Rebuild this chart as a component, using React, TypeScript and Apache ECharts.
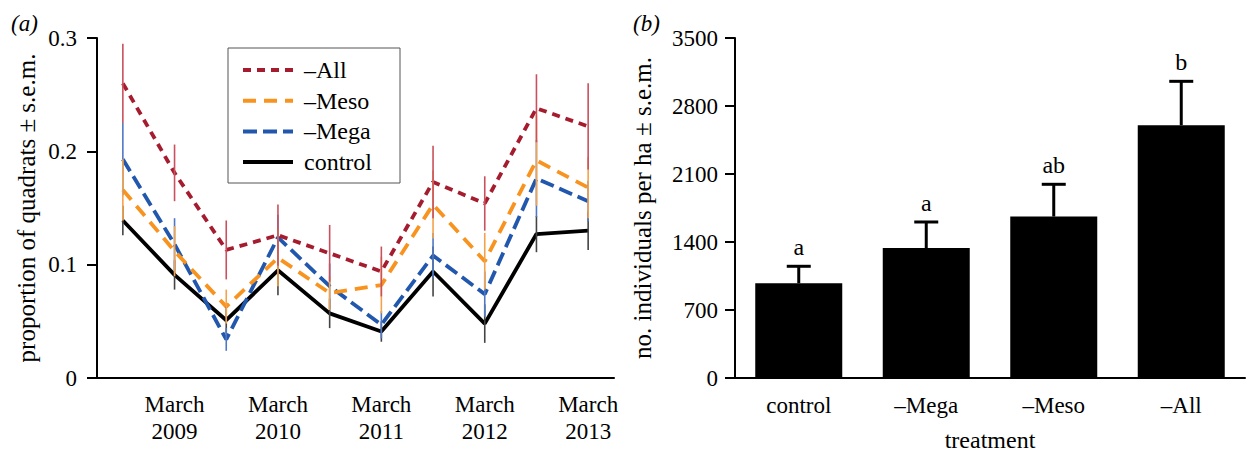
import React, { useEffect, useRef } from "react";
import * as echarts from "echarts";

// ---------- Panel (a) data ----------
const timeLabels = ["", "March\n2009", "", "March\n2010", "", "March\n2011", "", "March\n2012", "", "March\n2013"];
const timePoints = ["t1", "t2", "t3", "t4", "t5", "t6", "t7", "t8", "t9", "t10"];

const allValues = [0.26, 0.181, 0.113, 0.126, 0.11, 0.094, 0.173, 0.154, 0.238, 0.222];
const allSem = [0.035, 0.025, 0.026, 0.027, 0.025, 0.022, 0.032, 0.024, 0.03, 0.038];
const mesoValues = [0.166, 0.112, 0.063, 0.106, 0.075, 0.082, 0.153, 0.103, 0.192, 0.168];
const mesoSem = [0.027, 0.022, 0.015, 0.025, 0.015, 0.025, 0.03, 0.025, 0.04, 0.027];
const megaValues = [0.193, 0.118, 0.034, 0.124, 0.081, 0.047, 0.108, 0.074, 0.176, 0.156];
const megaSem = [0.032, 0.023, 0.01, 0.02, 0.02, 0.012, 0.02, 0.02, 0.034, 0.018];
const controlValues = [0.139, 0.091, 0.051, 0.095, 0.057, 0.041, 0.094, 0.048, 0.127, 0.13];
const controlSem = [0.013, 0.013, 0.012, 0.022, 0.013, 0.009, 0.022, 0.017, 0.016, 0.017];

const leftTicks = [0, 0.1, 0.2, 0.3];

// legend order as in the figure
const legendNames = ["–All", "–Meso", "–Mega", "control"];
const legendColors = ["#A51C2E", "#F7931E", "#2157AC", "#000000"];
const legendDashes: (number[] | null)[] = [[8, 6], [13, 8], [14, 6], null];

// ---------- Panel (b) data ----------
const treatments = ["control", "–Mega", "–Meso", "–All"];
const densities = [975, 1338, 1662, 2602];
const densitySem = [175, 268, 332, 452];
const groupLetters = ["a", "a", "ab", "b"];
const rightTicks = [0, 700, 1400, 2100, 2800, 3500];

const FONT = "Liberation Serif, Times New Roman, serif";

function errSeries(name: string, values: number[], sem: number[], color: string, z: number) {
  return {
    type: "custom",
    name,
    xAxisIndex: 0,
    yAxisIndex: 0,
    z,
    silent: true,
    data: values.map((v, i) => [i, v, sem[i]]),
    renderItem: (params: any, api: any) => {
      const x = api.value(0);
      const y = api.value(1);
      const e = api.value(2);
      const top = api.coord([x, y + e]);
      const bot = api.coord([x, y - e]);
      return {
        type: "line",
        shape: { x1: top[0], y1: top[1], x2: bot[0], y2: bot[1] },
        style: { stroke: color, lineWidth: 1.6 },
      };
    },
  };
}

function lineSeries(idx: number, data: number[], z: number) {
  const dash = legendDashes[idx];
  return {
    type: "line",
    name: legendNames[idx],
    data,
    xAxisIndex: 0,
    yAxisIndex: 0,
    symbol: "none",
    z,
    silent: true,
    lineStyle: { color: legendColors[idx], width: 3.8, type: dash ? dash : "solid" },
    itemStyle: { color: legendColors[idx] },
  };
}

export default function App() {
  const ref = useRef<HTMLDivElement>(null);
  useEffect(() => {
    document.body.style.margin = "0";
    if (!ref.current) return;
    const chart = echarts.init(ref.current, undefined, { renderer: "svg" });
    const tickText = { color: "#000", fontFamily: FONT, fontSize: 23 };
    const nameText = { color: "#000", fontFamily: FONT, fontSize: 25 };

    const legendItems: any[] = [
      {
        type: "rect",
        shape: { x: 228, y: 48, width: 172, height: 135 },
        style: { fill: "#fff", stroke: "#555", lineWidth: 1 },
        z: 100,
      },
    ];
    legendNames.forEach((n, i) => {
      const cy = 70 + i * 30.7;
      legendItems.push({
        type: "line",
        shape: { x1: 243, y1: cy, x2: 293, y2: cy },
        style: {
          stroke: legendColors[i],
          lineWidth: 4,
          lineDash: legendDashes[i] ? legendDashes[i] : null,
        },
        z: 101,
      });
      legendItems.push({
        type: "text",
        x: 304,
        y: cy,
        style: {
          text: n,
          fontFamily: FONT,
          fontSize: 24,
          fill: "#000",
          textAlign: "left",
          textVerticalAlign: "middle",
        },
        z: 101,
      });
    });

    const option: any = {
      animation: false,
      textStyle: { fontFamily: FONT, color: "#000" },
      grid: [
        { left: 97, right: 636, top: 38, bottom: 76, outerBoundsMode: "none", containLabel: false },
        { left: 735, right: 5, top: 38, bottom: 76, outerBoundsMode: "none", containLabel: false },
      ],
      xAxis: [
        {
          type: "category",
          gridIndex: 0,
          data: timePoints,
          boundaryGap: true,
          axisLine: { lineStyle: { color: "#000", width: 2 } },
          axisTick: { alignWithLabel: true, interval: 0, length: 11, lineStyle: { color: "#000", width: 2 } },
          axisLabel: {
            ...tickText,
            interval: 0,
            margin: 13,
            lineHeight: 27,
            formatter: (_v: string, i: number) => timeLabels[i],
          },
        },
        {
          type: "category",
          gridIndex: 1,
          data: treatments,
          boundaryGap: true,
          name: "treatment",
          nameLocation: "middle",
          nameGap: 50,
          nameTextStyle: { ...nameText, fontSize: 24 },
          axisLine: { lineStyle: { color: "#000", width: 2 } },
          axisTick: { alignWithLabel: true, interval: 0, length: 11, lineStyle: { color: "#000", width: 2 } },
          axisLabel: { ...tickText, interval: 0, margin: 16 },
        },
      ],
      yAxis: [
        {
          type: "value",
          gridIndex: 0,
          min: leftTicks[0],
          max: leftTicks[leftTicks.length - 1],
          interval: 0.1,
          name: "proportion of quadrats ± s.e.m.",
          nameLocation: "middle",
          nameGap: 58,
          nameRotate: 90,
          nameTextStyle: nameText,
          splitLine: { show: false },
          axisLine: { show: true, lineStyle: { color: "#000", width: 2 } },
          axisTick: { show: true, length: 10, lineStyle: { color: "#000", width: 2 } },
          axisLabel: { ...tickText, margin: 20, formatter: (v: number) => String(Math.round(v * 10) / 10) },
        },
        {
          type: "value",
          gridIndex: 1,
          min: rightTicks[0],
          max: rightTicks[rightTicks.length - 1],
          interval: 700,
          name: "no. individuals per ha ± s.e.m.",
          nameLocation: "middle",
          nameGap: 80,
          nameRotate: 90,
          nameTextStyle: nameText,
          splitLine: { show: false },
          axisLine: { show: true, lineStyle: { color: "#000", width: 2 } },
          axisTick: { show: true, length: 10, lineStyle: { color: "#000", width: 2 } },
          axisLabel: { ...tickText, margin: 17, formatter: (v: number) => String(v) },
        },
      ],
      graphic: [
        {
          type: "text",
          left: 11,
          top: 12,
          style: { text: "(a)", fontFamily: FONT, fontSize: 23, fontStyle: "italic", fill: "#000" },
        },
        {
          type: "text",
          left: 633,
          top: 12,
          style: { text: "(b)", fontFamily: FONT, fontSize: 23, fontStyle: "italic", fill: "#000" },
        },
        ...legendItems,
      ],
      series: [
        lineSeries(3, controlValues, 3),
        lineSeries(2, megaValues, 4),
        lineSeries(1, mesoValues, 5),
        lineSeries(0, allValues, 6),
        errSeries("errControl", controlValues, controlSem, "#444444", 7),
        errSeries("errMega", megaValues, megaSem, "#4F78C4", 8),
        errSeries("errMeso", mesoValues, mesoSem, "#F4A24A", 9),
        errSeries("errAll", allValues, allSem, "#C9505C", 10),
        {
          type: "bar",
          name: "density",
          data: densities,
          xAxisIndex: 1,
          yAxisIndex: 1,
          barWidth: 87,
          itemStyle: { color: "#000" },
          silent: true,
        },
        {
          type: "custom",
          name: "densityErr",
          xAxisIndex: 1,
          yAxisIndex: 1,
          silent: true,
          z: 5,
          data: densities.map((v, i) => [i, v, densitySem[i]]),
          renderItem: (params: any, api: any) => {
            const i = api.value(0);
            const v = api.value(1);
            const e = api.value(2);
            const base = api.coord([i, v]);
            const top = api.coord([i, v + e]);
            const half = 12;
            return {
              type: "group",
              children: [
                {
                  type: "line",
                  shape: { x1: base[0], y1: base[1], x2: top[0], y2: top[1] },
                  style: { stroke: "#000", lineWidth: 3 },
                },
                {
                  type: "line",
                  shape: { x1: top[0] - half, y1: top[1], x2: top[0] + half, y2: top[1] },
                  style: { stroke: "#000", lineWidth: 3 },
                },
                {
                  type: "text",
                  x: top[0],
                  y: top[1] - 19,
                  style: {
                    text: groupLetters[params.dataIndex],
                    fontFamily: FONT,
                    fontSize: 24,
                    fill: "#000",
                    textAlign: "center",
                    textVerticalAlign: "middle",
                  },
                },
              ],
            };
          },
        },
      ],
    };
    chart.setOption(option);
    return () => chart.dispose();
  }, []);
  return <div ref={ref} style={{ width: 1250, height: 454 }} />;
}
